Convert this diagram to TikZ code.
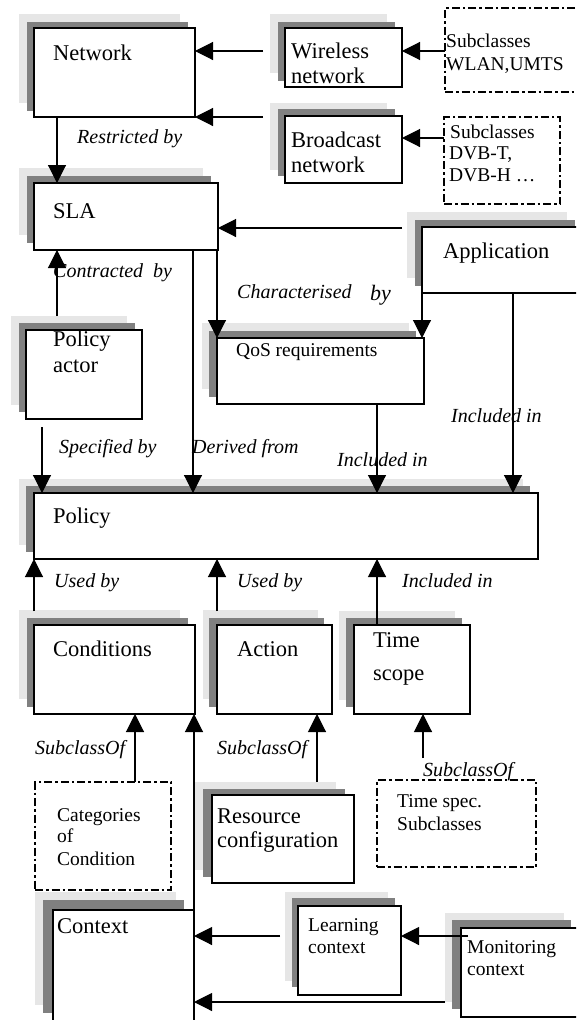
\documentclass[tikz,border=0pt]{standalone}
\usepackage{fontspec}
\setmainfont{Liberation Serif}
\usetikzlibrary{arrows.meta}
\definecolor{shlight}{HTML}{E6E6E6}
\definecolor{shdark}{HTML}{808080}
\tikzset{
  frontbox/.style={draw=black, fill=white, line width=1.3pt, inner sep=0pt, outer sep=0pt},
  dbx/.style={draw=black, line width=2pt, inner sep=0pt, outer sep=0pt,
    dash pattern=on 8pt off 3pt on 2.5pt off 3pt},
  tbig/.style={anchor=base west, inner sep=0pt, font=\fontsize{22.5}{26}\selectfont},
  tsmall/.style={anchor=base west, inner sep=0pt, font=\fontsize{19.5}{23}\selectfont},
  lab/.style={anchor=base west, inner sep=0pt, font=\fontsize{20}{24}\selectfont\itshape},
  conn/.style={line width=1.1pt, -{Triangle[length=18pt,width=18pt]}},
}
\newcommand\stackbox[9]{%
  \fill[shlight] ({#2+#8},{#3+#9}) rectangle ({#4+#8},{#5+#9});
  \fill[shdark] ({#2+#6},{#3+#7}) rectangle ({#4+#6},{#5+#7});
  \node[frontbox, anchor=north west, minimum width={#4pt-#2pt}, minimum height={#5pt-#3pt}] (#1) at (#2,#3) {};
}
\newcommand\dashedbx[5]{%
  \node[dbx, anchor=north west, minimum width={#4pt-#2pt}, minimum height={#5pt-#3pt}] (#1) at (#2,#3) {};
}
\begin{document}
\begin{tikzpicture}[x=1pt,y=-1pt]
\useasboundingbox (0,0) rectangle (576,1020);
\clip (0,0) rectangle (576,1020);
\fill[white] (0,0) rectangle (576,1020);

% boxes
\stackbox{network}{34}{28}{195}{117}{-7}{-6}{-15}{-14}
\stackbox{wireless}{285}{28}{402}{87}{-7}{-6}{-15}{-14}
\stackbox{broadcast}{285}{116}{402}{183}{-7}{-7}{-15}{-13}
\stackbox{sla}{34}{183}{218}{250}{-7}{-7}{-15}{-15}
\stackbox{application}{422}{227}{582}{293}{-7}{-7}{-15}{-15}
\stackbox{actor}{26}{330}{142}{419}{-7}{-7}{-15}{-14}
\stackbox{qos}{217}{338}{424}{404}{-8}{-7}{-15}{-15}
\stackbox{policy}{34}{493}{538}{559}{-8}{-7}{-15}{-14}
\stackbox{conditions}{34}{625}{195}{714}{-7}{-7}{-15}{-15}
\stackbox{action}{217}{625}{332}{714}{-8}{-7}{-14}{-15}
\stackbox{timescope}{354}{625}{470}{714}{-8}{-7}{-15}{-14}
\stackbox{resource}{212}{795}{354}{883}{-9}{-6}{-18}{-13}
\stackbox{context}{53}{910}{194}{1023}{-10}{-10}{-18}{-18}
\stackbox{learning}{298}{906}{401}{995}{-6}{-8}{-13}{-14}
\stackbox{monitoring}{461}{928}{580}{1017}{-9}{-8}{-16}{-15}

\dashedbx{wlan}{445}{8}{600}{92}
\dashedbx{dvb}{444}{117}{560}{204}
\dashedbx{categories}{35}{782}{171}{890}
\dashedbx{timespec}{377}{780}{536}{867}

% box texts
\node[tbig] (network-t) at (53,60) {Network};
\node[tbig] (wireless-t1) at (291,58) {Wireless};
\node[tbig] (wireless-t2) at (291,83) {network};
\node[tbig] (broadcast-t1) at (291,147) {Broadcast};
\node[tbig] (broadcast-t2) at (291,172) {network};
\node[tsmall] (wlan-t1) at (446,47) {Subclasses};
\node[tsmall] (wlan-t2) at (446,70) {WLAN,UMTS};
\node[tsmall] (dvb-t1) at (450,138) {Subclasses};
\node[tsmall] (dvb-t2) at (449,159) {DVB-T,};
\node[tsmall] (dvb-t3) at (449,181) {DVB-H …};
\node[tbig] (sla-t) at (53,218) {SLA};
\node[tbig] (app-t) at (443,258) {Application};
\node[tbig] (actor-t1) at (53,346) {Policy};
\node[tbig] (actor-t2) at (53,372) {actor};
\node[tsmall] (qos-t) at (236,356) {QoS requirements};
\node[tbig] (policy-t) at (53,523) {Policy};
\node[tbig] (conditions-t) at (53,656) {Conditions};
\node[tbig] (action-t) at (237,656) {Action};
\node[tbig] (time-t1) at (373,647) {Time};
\node[tbig] (time-t2) at (373,680) {scope};
\node[tsmall] (cat-t1) at (57,821) {Categories};
\node[tsmall] (cat-t2) at (57,842) {of};
\node[tsmall] (cat-t3) at (57,865) {Condition};
\node[tbig] (res-t1) at (217,823) {Resource};
\node[tbig] (res-t2) at (217,847) {configuration};
\node[tsmall] (ts-t1) at (397,807) {Time spec.};
\node[tsmall] (ts-t2) at (397,830) {Subclasses};
\node[tbig] (context-t) at (57,933) {Context};
\node[tsmall] (learn-t1) at (308,931) {Learning};
\node[tsmall] (learn-t2) at (308,953) {context};
\node[tsmall] (mon-t1) at (467,953) {Monitoring};
\node[tsmall] (mon-t2) at (467,975) {context};

% connector labels
\node[lab] (l-restricted) at (77,143) {Restricted by};
\node[lab] (l-contracted) at (53,277) {Contracted~~by};
\node[lab] (l-char1) at (237,298) {Characterised};
\node[lab, font=\fontsize{22}{26}\selectfont\itshape] (l-char2) at (370,300) {by};
\node[lab] (l-specified) at (59,453) {Specified by};
\node[lab] (l-derived) at (192,453) {Derived from};
\node[lab] (l-incl1) at (451,422) {Included in};
\node[lab] (l-incl2) at (337,466) {Included in};
\node[lab] (l-used1) at (54,587) {Used by};
\node[lab] (l-used2) at (237,587) {Used by};
\node[lab] (l-incl3) at (402,587) {Included in};
\node[lab] (l-sub1) at (35,754) {SubclassOf};
\node[lab] (l-sub2) at (217,754) {SubclassOf};
\node[lab] (l-sub3) at (423,776) {SubclassOf};

% free connector ends
\coordinate (wl-out) at (263,51);
\coordinate (bc-out) at (263,117);
\coordinate (wlan-out) at (445,51);
\coordinate (dvb-out) at (444,138);
\coordinate (net-out) at (57,117);
\coordinate (app-left) at (402,228);
\coordinate (sla-qos) at (217,250);
\coordinate (actor-top) at (57,316);
\coordinate (sla-pol) at (193,250);
\coordinate (actor-bot) at (42,427);
\coordinate (qos-out) at (377,404);
\coordinate (app-pol) at (513,293);
\coordinate (cond-out) at (34,611);
\coordinate (act-out) at (217,611);
\coordinate (time-out) at (377,625);
\coordinate (cat-out) at (135,782);
\coordinate (res-out) at (317,782);
\coordinate (ts-out) at (423,758);
\coordinate (learn-out) at (280,936);
\coordinate (mon-out1) at (468,936);
\coordinate (mon-out2) at (445,1002);

% connectors
\draw[conn] (wl-out) -- (wl-out -| network.east);
\draw[conn] (bc-out) -- (network.south east);
\draw[conn] (wlan-out) -- (wlan-out -| wireless.east);
\draw[conn] (dvb-out) -- (dvb-out -| broadcast.east);
\draw[conn] (net-out) -- (net-out |- sla.north);
\draw[conn] (app-left) -- (app-left -| sla.east);
\draw[conn] (sla-qos) -- (sla-qos |- qos.north);
\draw[conn] (application.south west) -- (application.south west |- qos.north);
\draw[conn] (actor-top) -- (actor-top |- sla.south);
\draw[conn] (sla-pol) -- (sla-pol |- policy.north);
\draw[conn] (actor-bot) -- (actor-bot |- policy.north);
\draw[conn] (qos-out) -- (qos-out |- policy.north);
\draw[conn] (app-pol) -- (app-pol |- policy.north);
\draw[conn] (cond-out) -- (cond-out |- policy.south);
\draw[conn] (act-out) -- (act-out |- policy.south);
\draw[conn] (time-out) -- (time-out |- policy.south);
\draw[conn] (cat-out) -- (cat-out |- conditions.south);
\draw[conn] (context.south east) -- (context.south east |- conditions.south);
\draw[conn] (res-out) -- (res-out |- action.south);
\draw[conn] (ts-out) -- (ts-out |- timescope.south);
\draw[conn] (learn-out) -- (learn-out -| context.east);
\draw[conn] (mon-out1) -- (mon-out1 -| learning.east);
\draw[conn] (mon-out2) -- (mon-out2 -| context.east);
\end{tikzpicture}
\end{document}
